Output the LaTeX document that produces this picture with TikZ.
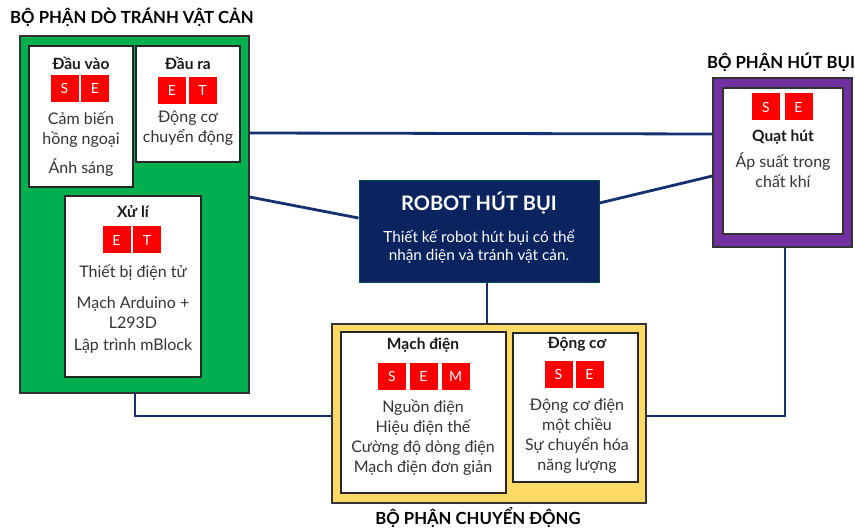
\documentclass[tikz,border=0pt]{standalone}
\usepackage{fontspec}
\setmainfont{Lato}
\usetikzlibrary{calc}
\definecolor{navyline}{HTML}{14306E}
\definecolor{navybox}{HTML}{0B2460}
\definecolor{gboard}{HTML}{00B050}
\definecolor{ylboard}{HTML}{FFD966}
\definecolor{purpboard}{HTML}{7030A0}
\definecolor{txtgray}{HTML}{333333}
\definecolor{tagred}{HTML}{FF0000}
\tikzset{
  board/.style={draw=black!80, line width=1.3bp, rectangle, inner sep=0pt},
  wbox/.style={draw=black!85, line width=1.5bp, fill=white, rectangle, inner sep=0pt},
  tag/.style={fill=tagred, text=white, minimum width=28bp, minimum height=27bp, inner sep=0pt, font=\fontsize{14bp}{14bp}\selectfont},
  link/.style={draw=navyline, line width=2.8bp},
  head/.style={font=\fontsize{15.5bp}{16bp}\selectfont\bfseries, text=black!90, inner sep=0pt},
  body/.style={font=\fontsize{16bp}{20bp}\selectfont, text=txtgray, align=center, inner sep=0pt},
  ttl/.style={font=\fontsize{16.7bp}{18bp}\selectfont\bfseries, text=black, inner sep=0pt}
}
\begin{document}
\begin{tikzpicture}[x=1bp,y=-1bp]
\useasboundingbox (0,0) rectangle (855,532);
% boards
\node[board, fill=gboard, minimum width=229bp, minimum height=357bp] (green) at (134.5,214.5) {};
\node[board, fill=ylboard, minimum width=314bp, minimum height=179bp] (yellow) at (489,413.5) {};
\node[board, fill=purpboard, minimum width=139bp, minimum height=169bp] (purple) at (782.5,162.5) {};
\node[draw=black!80, line width=1.3bp, fill=white, minimum width=120bp, minimum height=146bp, inner sep=0pt] (purpin) at (783,161) {};
\node[draw=black!40!teal, line width=1bp, fill=navybox, minimum width=240bp, minimum height=101bp, inner sep=0pt] (center) at (479,231.5) {};
% white boxes in green
\node[wbox, minimum width=104bp, minimum height=141bp] (dauvao) at (81,116.5) {};
\node[wbox, minimum width=104bp, minimum height=116bp] (daura) at (188,104) {};
\node[wbox, minimum width=136bp, minimum height=181bp] (xuli) at (133,286.5) {};
% white boxes in yellow
\node[wbox, minimum width=165bp, minimum height=161bp] (machdien) at (423.5,412.5) {};
\node[wbox, minimum width=125bp, minimum height=149bp] (dongco) at (575.5,407.5) {};
% connectors
\draw[link] (green.east |- 0,133) -- (purple.west |- 0,134);
\draw[link] (green.east |- 0,197) -- (center.west |- 0,218);
\draw[link] (center.east |- 0,203) -- (purple.west |- 0,176);
\draw[link] (center.south -| 487,0) -- (yellow.north -| 487,0);
\draw[link] (green.south -| 135,0) |- (yellow.west |- 0,416);
\draw[link] (purple.south -| 785,0) |- (yellow.east |- 0,416);
% titles
\node[ttl, anchor=west] (t1) at (10,17) {BỘ PHẬN DÒ TRÁNH VẬT CẢN};
\node[ttl] (t2) at (781,62) {BỘ PHẬN HÚT BỤI};
\node[ttl] (t3) at (478,518) {BỘ PHẬN CHUYỂN ĐỘNG};
% Dau vao
\node[head] (h1) at (81,63) {Đầu vào};
\node[tag] (dv1) at (64.5,88.5) {S};
\node[tag] (dv2) at (95,88.5) {E};
\node[body] (b1) at (81,130) {Cảm biến\\hồng ngoại};
\node[body] (b1b) at (81,168) {Ánh sáng};
% Dau ra
\node[head] (h2) at (188,63) {Đầu ra};
\node[tag] (dr1) at (172,90.5) {E};
\node[tag] (dr2) at (202.5,90.5) {T};
\node[body] (b2) at (188,128) {Động cơ\\chuyển động};
% Xu li
\node[head] (h3) at (133,212) {Xử lí};
\node[tag] (x1) at (116.5,240) {E};
\node[tag] (x2) at (147,240) {T};
\node[body] (b3) at (133,273) {Thiết bị điện tử};
\node[body] (b3b) at (133,312.5) {Mạch Arduino +\\L293D};
\node[body] (b3c) at (133,346) {Lập trình mBlock};
% Center
\node[font=\fontsize{20bp}{22bp}\selectfont\bfseries, text=white, inner sep=0pt] (ct) at (479,203) {ROBOT HÚT BỤI};
\node[font=\fontsize{15.3bp}{18bp}\selectfont, text=white, align=center, inner sep=0pt] (cb) at (479,247) {Thiết kế robot hút bụi có thể\\nhận diện và tránh vật cản.};
% Purple
\node[tag] (p1) at (766,107) {S};
\node[tag] (p2) at (798.5,107) {E};
\node[head] (h4) at (783,137) {Quạt hút};
\node[body] (b4) at (783,170) {Áp suất trong\\chất khí};
% Mach dien
\node[head] (h5) at (423,345) {Mạch điện};
\node[tag] (m1) at (392,376) {S};
\node[tag] (m2) at (423.5,376) {E};
\node[tag] (m3) at (455.5,376) {M};
\node[body] (b5) at (423,437.5) {Nguồn điện\\Hiệu điện thế\\Cường độ dòng điện\\Mạch điện đơn giản};
% Dong co
\node[head] (h6) at (577,344) {Động cơ};
\node[tag] (d1) at (558.5,374) {S};
\node[tag] (d2) at (589.5,374) {E};
\node[body] (b6) at (577,436.5) {Động cơ điện\\một chiều\\Sự chuyển hóa\\năng lượng};
\end{tikzpicture}
\end{document}
